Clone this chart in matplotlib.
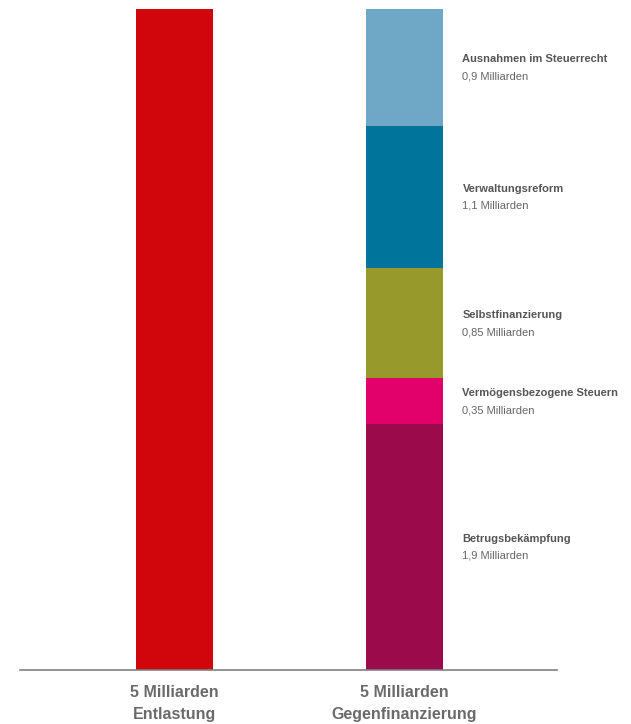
import matplotlib.pyplot as plt
from matplotlib import font_manager

bar_labels = ["5 Milliarden\nEntlastung", "5 Milliarden\nGegenfinanzierung"]
relief_total = 5.0
relief_color = "#D1050C"

segments = ["Betrugsbekämpfung", "Vermögensbezogene Steuern", "Selbstfinanzierung",
            "Verwaltungsreform", "Ausnahmen im Steuerrecht"]
segment_values = [1.9, 0.35, 0.85, 1.1, 0.9]
segment_texts = ["1,9 Milliarden", "0,35 Milliarden", "0,85 Milliarden",
                 "1,1 Milliarden", "0,9 Milliarden"]
segment_colors = ["#9B0A4A", "#E2006A", "#979A2A", "#00749A", "#6FA8C6"]

names = {f.name for f in font_manager.fontManager.ttflist}
narrow = "Liberation Sans Narrow" if "Liberation Sans Narrow" in names else "Liberation Sans"
plt.rcParams["font.family"] = [narrow, "DejaVu Sans"]

fig = plt.figure(figsize=(6.31, 7.24), dpi=100)
ax = fig.add_axes([20 / 631, 54 / 724, 537 / 631, 661 / 724])

width = 0.335
ax.bar(0, relief_total, width=width, color=relief_color)

# stack is scaled so that it has the same height as the relief bar
scale = relief_total / sum(segment_values)
bottom = 0.0
for name, val, txt, col in zip(segments, segment_values, segment_texts, segment_colors):
    h = val * scale
    ax.bar(1, h, width=width, bottom=bottom, color=col)
    mid = bottom + h / 2
    ax.annotate(name, (1 + width / 2, mid), xytext=(14, 6), textcoords="offset points",
                ha="left", va="center", fontsize=8, fontweight="bold", color="#555555")
    ax.annotate(txt, (1 + width / 2, mid), xytext=(14, -6.5), textcoords="offset points",
                ha="left", va="center", fontsize=8, color="#666666")
    bottom += h

ax.set_xlim(-0.672, 1.663)
ax.set_ylim(0, relief_total)
ax.set_xticks([0, 1])
ax.set_xticklabels(bar_labels, fontsize=11.5, fontweight="bold", color="#6a6a6a",
                   linespacing=1.6)
ax.tick_params(axis="x", length=0, pad=11)
ax.set_yticks([])
for s in ("top", "right", "left"):
    ax.spines[s].set_visible(False)
ax.spines["bottom"].set_color("#808080")
ax.spines["bottom"].set_linewidth(1.2)

fig.savefig("out.png", dpi=100)
